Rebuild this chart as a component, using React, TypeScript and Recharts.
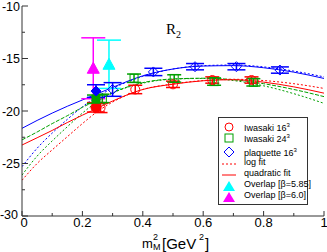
import React from 'react';
import {
  ComposedChart,
  Line,
  Scatter,
  ErrorBar,
  XAxis,
  YAxis,
} from 'recharts';

// fit curves, sampled along m_M^2
const fitX = [0, 0.05, 0.1, 0.15, 0.2, 0.25, 0.3, 0.4, 0.5, 0.6, 0.7, 0.8, 0.9, 1.0];
const blueQuad = [-21.65, -20.9, -20.2, -19.55, -18.95, -18.35, -17.75, -16.65, -16.0, -15.72, -15.68, -15.88, -16.3, -16.9];
const blueLog = [-25.3, -23.55, -22.1, -20.8, -19.6, -18.6, -17.85, -16.7, -16.0, -15.68, -15.62, -15.8, -16.2, -16.75];
const greenQuad = [-22.75, -22.0, -21.2, -20.45, -19.65, -18.95, -18.25, -17.3, -16.95, -16.88, -17.02, -17.4, -17.95, -18.63];
const greenLog = [-26.1, -24.3, -22.85, -21.5, -20.2, -19.1, -18.3, -17.35, -16.97, -16.9, -17.1, -17.6, -18.35, -19.27];
const redQuad = [-23.24, -22.55, -21.85, -21.1, -20.4, -19.72, -19.05, -17.95, -17.45, -17.12, -17.02, -17.25, -17.7, -18.3];
const redLog = [-26.6, -25.0, -23.7, -22.45, -21.2, -20.05, -19.15, -17.95, -17.42, -17.1, -16.98, -17.1, -17.4, -17.85];

// measured points
const iwa16X = [0.26, 0.375, 0.5, 0.63, 0.76];
const iwa16Y = [-19.7, -17.95, -17.46, -17.05, -17.05];
const iwa16E = [0.45, 0.4, 0.3, 0.3, 0.3];
const iwa24X = [0.266, 0.371, 0.504, 0.636, 0.766];
const iwa24Y = [-18.8, -16.88, -16.9, -17.2, -17.27];
const iwa24E = [0.4, 0.4, 0.35, 0.35, 0.35];
const plaqX = [0.3, 0.435, 0.573, 0.71, 0.854];
const plaqY = [-17.95, -16.28, -15.78, -15.78, -16.1];
const plaqE = [0.65, 0.35, 0.3, 0.3, 0.3];

// extrapolated (filled) points
const extX = 0.245;
const extRed = [-19.65, 0.45];
const extGreen = [-18.88, 0.4];
const extBlue = [-18.1, 0.6];

// overlap results
const ovl585 = [0.288, -15.55, 2.3];
const ovl60 = [0.236, -15.93, 2.9];

const xTicks = [0, 0.1, 0.2, 0.3, 0.4, 0.5, 0.6, 0.7, 0.8, 0.9, 1];
const xMajor = ['0', '0.2', '0.4', '0.6', '0.8', '1'];
const yTicks = [-30, -27.5, -25, -22.5, -20, -17.5, -15, -12.5, -10];

const RED = '#ff0000';
const GREEN = '#00a000';
const BLUE = '#0000ff';
const CYAN = '#00ffff';
const MAGENTA = '#ff00ff';
const FRAME = '#333';
const FONT = '"Liberation Sans", Arial, sans-serif';

const fitData = fitX.map((x, i) => ({
  x,
  blueQuad: blueQuad[i],
  blueLog: blueLog[i],
  greenQuad: greenQuad[i],
  greenLog: greenLog[i],
  redQuad: redQuad[i],
  redLog: redLog[i],
}));

const pts = (xs: number[], ys: number[], es: number[]) =>
  xs.map((x, i) => ({ x, y: ys[i], e: es[i] }));

const fmtX = (v: number) => {
  const s = String(Math.round(v * 10) / 10);
  return xMajor.includes(s) ? s : null;
};

const BottomTick = (props: any) => {
  const { x, y, payload } = props;
  const lab = fmtX(payload.value);
  return (
    <g>
      <line x1={x} y1={y} x2={x} y2={y - (lab ? 5 : 3)} stroke={FRAME} />
      {lab && (
        <text x={lab === '0' ? x + 2 : x} y={y + 11} textAnchor="middle" fontSize={13} fontFamily={FONT} fill="#000">
          {lab}
        </text>
      )}
    </g>
  );
};

const TopTick = (props: any) => {
  const { x, y, payload } = props;
  const major = fmtX(payload.value) != null;
  return <line x1={x} y1={y} x2={x} y2={y + (major ? 5 : 3)} stroke={FRAME} />;
};

const LeftTick = (props: any) => {
  const { x, y, payload } = props;
  const major = payload.value % 5 === 0;
  const bottom = payload.value === -30;
  return (
    <g>
      <line x1={x} y1={y} x2={x + (major ? 6 : 3)} y2={y} stroke={FRAME} />
      {major && (
        <text x={x - (bottom ? 4 : 2)} y={y + (bottom ? 2.5 : 4.5)} textAnchor="end" fontSize={12.5} fontFamily={FONT} fill="#000">
          {payload.value}
        </text>
      )}
    </g>
  );
};

const RightTick = (props: any) => {
  const { x, y, payload } = props;
  const major = payload.value % 5 === 0;
  return <line x1={x} y1={y} x2={x - (major ? 6 : 3)} y2={y} stroke={FRAME} />;
};

const circle = (fill: string) => (p: any) =>
  <circle cx={p.cx} cy={p.cy} r={fill === 'none' ? 4.5 : 5} fill={fill} stroke={RED} />;
const square = (fill: string) => (p: any) =>
  <rect x={p.cx - 4} y={p.cy - 4} width={8} height={8} fill={fill} stroke={GREEN} />;
const diamond = (fill: string) => (p: any) =>
  <path d={`M${p.cx},${p.cy - 5}L${p.cx + 5},${p.cy}L${p.cx},${p.cy + 5}L${p.cx - 5},${p.cy}Z`} fill={fill} stroke={BLUE} />;
const triangle = (color: string) => (p: any) =>
  <path d={`M${p.cx},${p.cy - 6}L${p.cx + 6},${p.cy + 5}L${p.cx - 6},${p.cy + 5}Z`} fill={color} stroke={color} />;

const LegendRow = ({ y, sym, label }: { y: number; sym: React.ReactNode; label: React.ReactNode }) => (
  <div style={{ position: 'absolute', left: 0, top: y, height: 11, width: 90 }}>
    <svg width={20} height={11} style={{ position: 'absolute', left: 0, top: 0 }}>{sym}</svg>
    <span style={{ position: 'absolute', left: 23, top: -1, fontSize: 9, lineHeight: '11px', whiteSpace: 'nowrap' }}>{label}</span>
  </div>
);

const Legend = () => (
  <div
    style={{
      position: 'absolute',
      left: 218,
      top: 117,
      width: 88,
      height: 86,
      border: `1px solid ${FRAME}`,
      background: '#fff',
      fontFamily: FONT,
      color: '#000',
    }}
  >
    <div style={{ position: 'absolute', left: 2, top: 0 }}>
      <LegendRow y={3} sym={<circle cx={8} cy={6} r={4} fill="none" stroke={RED} />} label={<>Iwasaki 16<sup style={{ fontSize: 6 }}>3</sup></>} />
      <LegendRow y={14} sym={<rect x={4} y={2} width={8} height={8} fill="none" stroke={GREEN} />} label={<>Iwasaki 24<sup style={{ fontSize: 6 }}>3</sup></>} />
      <LegendRow y={28} sym={<path d="M8,1L13,6L8,11L3,6Z" fill="none" stroke={BLUE} />} label={<>plaquette 16<sup style={{ fontSize: 6 }}>3</sup></>} />
      <LegendRow y={40} sym={<line x1={1} y1={6} x2={15} y2={6} stroke={RED} strokeDasharray="2 2" />} label="log fit" />
      <LegendRow y={51} sym={<line x1={1} y1={6} x2={15} y2={6} stroke={RED} />} label="quadratic fit" />
      <LegendRow y={62} sym={<path d="M8,1L14,11L2,11Z" fill={CYAN} />} label="Overlap [β=5.85]" />
      <LegendRow y={73} sym={<path d="M8,1L14,11L2,11Z" fill={MAGENTA} />} label="Overlap [β=6.0]" />
    </div>
  </div>
);

const abs = (left: number, top: number, size: number): React.CSSProperties => ({
  position: 'absolute',
  left,
  top,
  fontSize: size,
  lineHeight: 1,
  fontFamily: FONT,
  color: '#000',
  whiteSpace: 'nowrap',
});

export default function App() {
  return (
    <div style={{ position: 'absolute', left: 0, top: 0, width: 327, height: 252, background: '#fff', overflow: 'hidden' }}>
      <ComposedChart width={327} height={252} data={fitData} margin={{ top: 6, right: 3, bottom: 0, left: 0 }}>
        <XAxis
          xAxisId={0}
          dataKey="x"
          type="number"
          domain={[0, 1]}
          ticks={xTicks}
          interval={0}
          height={36}
          tickSize={0}
          tickMargin={0}
          tick={BottomTick}
          stroke={FRAME}
          allowDataOverflow
        />
        <XAxis
          xAxisId="top"
          orientation="top"
          type="number"
          domain={[0, 1]}
          ticks={xTicks}
          interval={0}
          height={0}
          tickSize={0}
          tickMargin={0}
          tick={TopTick}
          stroke={FRAME}
          allowDataOverflow
        />
        <YAxis
          yAxisId={0}
          type="number"
          domain={[-30, -10]}
          ticks={yTicks}
          interval={0}
          width={22}
          tickSize={0}
          tickMargin={0}
          tick={LeftTick}
          stroke={FRAME}
          allowDataOverflow
        />
        <YAxis
          yAxisId="right"
          orientation="right"
          type="number"
          domain={[-30, -10]}
          ticks={yTicks}
          interval={0}
          width={0}
          tickSize={0}
          tickMargin={0}
          tick={RightTick}
          stroke={FRAME}
          allowDataOverflow
        />

        <Line dataKey="blueQuad" type="monotone" stroke={BLUE} strokeWidth={1} dot={false} isAnimationActive={false} />
        <Line dataKey="blueLog" type="monotone" stroke={BLUE} strokeWidth={1} strokeDasharray="2 2" dot={false} isAnimationActive={false} />
        <Line dataKey="greenQuad" type="monotone" stroke={GREEN} strokeWidth={1} strokeDasharray="4 1.5" dot={false} isAnimationActive={false} />
        <Line dataKey="greenLog" type="monotone" stroke={GREEN} strokeWidth={1} strokeDasharray="2 2" dot={false} isAnimationActive={false} />
        <Line dataKey="redQuad" type="monotone" stroke={RED} strokeWidth={1} dot={false} isAnimationActive={false} />
        <Line dataKey="redLog" type="monotone" stroke={RED} strokeWidth={1} strokeDasharray="2 2" dot={false} isAnimationActive={false} />

        <Scatter data={[{ x: ovl60[0], y: ovl60[1], e: ovl60[2] }]} dataKey="y" shape={triangle(MAGENTA)} isAnimationActive={false}>
          <ErrorBar dataKey="e" direction="y" width={12} stroke={MAGENTA} strokeWidth={1.5} />
        </Scatter>
        <Scatter data={[{ x: ovl585[0], y: ovl585[1], e: ovl585[2] }]} dataKey="y" shape={triangle(CYAN)} isAnimationActive={false}>
          <ErrorBar dataKey="e" direction="y" width={12} stroke={CYAN} strokeWidth={1.5} />
        </Scatter>

        <Scatter data={pts(iwa16X, iwa16Y, iwa16E)} dataKey="y" shape={circle('none')} isAnimationActive={false}>
          <ErrorBar dataKey="e" direction="y" width={7} stroke={RED} />
        </Scatter>
        <Scatter data={pts(iwa24X, iwa24Y, iwa24E)} dataKey="y" shape={square('none')} isAnimationActive={false}>
          <ErrorBar dataKey="e" direction="y" width={7} stroke={GREEN} />
        </Scatter>
        <Scatter data={pts(plaqX, plaqY, plaqE)} dataKey="y" shape={diamond('none')} isAnimationActive={false}>
          <ErrorBar dataKey="e" direction="y" width={9} stroke={BLUE} />
        </Scatter>

        <Scatter data={[{ x: extX, y: extRed[0], e: extRed[1] }]} dataKey="y" shape={circle(RED)} isAnimationActive={false}>
          <ErrorBar dataKey="e" direction="y" width={9} stroke={RED} />
        </Scatter>
        <Scatter data={[{ x: extX, y: extGreen[0], e: extGreen[1] }]} dataKey="y" shape={square(GREEN)} isAnimationActive={false}>
          <ErrorBar dataKey="e" direction="y" width={9} stroke={GREEN} />
        </Scatter>
        <Scatter data={[{ x: extX, y: extBlue[0], e: extBlue[1] }]} dataKey="y" shape={diamond(BLUE)} isAnimationActive={false}>
          <ErrorBar dataKey="e" direction="y" width={9} stroke={BLUE} />
        </Scatter>
      </ComposedChart>

      <div style={{ position: 'absolute', left: 166, top: 21, fontFamily: '"Liberation Serif", "DejaVu Serif", serif', fontSize: 15, color: '#000' }}>
        R<sub style={{ fontSize: 10 }}>2</sub>
      </div>

      {/* x axis title: m_M^2 [GeV^2] */}
      <span style={abs(142, 237, 13)}>m</span>
      <span style={abs(153, 233, 9)}>2</span>
      <span style={abs(153, 243, 9)}>M</span>
      <span style={abs(162, 236, 15)}>[GeV</span>
      <span style={abs(199, 233, 9)}>2</span>
      <span style={abs(205, 236, 15)}>]</span>

      <Legend />
    </div>
  );
}
